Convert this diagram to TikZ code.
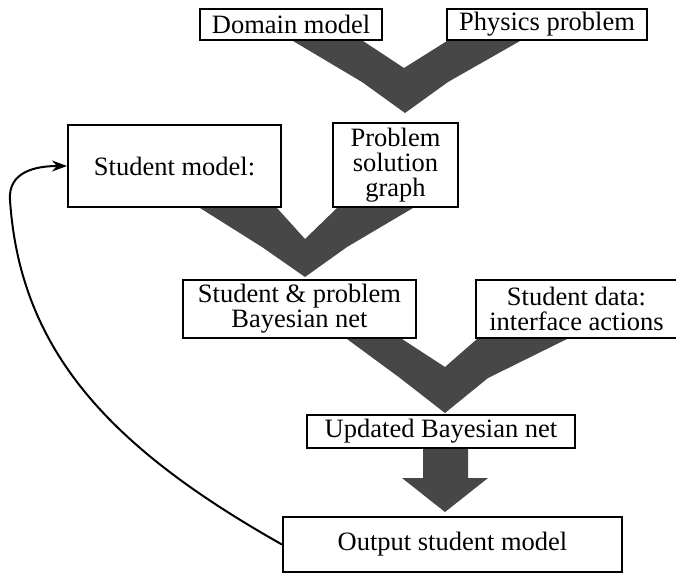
\documentclass[tikz,border=0pt]{standalone}
\usepackage{fontspec}
\setmainfont{Liberation Serif}
\newfontfamily\boxfont{Liberation Serif}
\usepackage{tikz}
\usetikzlibrary{arrows.meta,positioning}

\begin{document}
\begin{tikzpicture}[
    x=1pt, y=-1pt,
    box/.style={draw, line width=2pt, inner sep=0pt, align=center, font=\boxfont\fontsize{26.5}{25}\selectfont},
    flow/.style={fill=black!72},
    feedback/.style={line width=2pt, -{Stealth[length=15pt,width=11pt]}},
]
\useasboundingbox (0,0) rectangle (676,576);

% Inputs
\node[box, minimum width=182pt, minimum height=31pt] (domain) at (291,24.5) {Domain model};
\node[box, minimum width=200pt, minimum height=31pt, right=63pt of domain] (physics) {Physics problem};

% Student model and solution graph
\node[box, minimum width=213pt, minimum height=82pt] (student) at (174.5,166) {Student model:};
\node[box, minimum width=125pt, minimum height=84pt] (graph) at (395.5,165) {Problem\\solution\\graph};

% Bayesian net and student data
\node[box, minimum width=233pt, minimum height=58pt] (net) at (299.5,309) {Student \& problem\\Bayesian net};
\node[box, minimum width=201pt, minimum height=58pt, right=58pt of net] (data) {Student data:\\interface actions};

% Update and output
\node[box, minimum width=268pt, minimum height=33pt] (updated) at (441,431.5) {Updated Bayesian net};
\node[box, minimum width=339pt, minimum height=55pt] (output) at (452.5,544.5) {Output student model};

% Merging arrows
\fill[flow] (293,41) -- (362,82) -- (405,113) -- (448,82) -- (520,41) -- (447,41) -- (404,68) -- (363,41) -- cycle;
\fill[flow] (200,208) -- (262,247) -- (305,277) -- (347,247) -- (413,208) -- (337,208) -- (305,239) -- (277,208) -- cycle;
\fill[flow] (347,339) -- (400,378) -- (445,413) -- (488,378) -- (567,339) -- (477,339) -- (445,367) -- (402,339) -- cycle;

% Straight arrow
\fill[flow] (423,449) -- (423,478) -- (402,478) -- (445,512) -- (488,478) -- (468,478) -- (468,449) -- cycle;

% Feedback loop
\draw[feedback] (output.west) .. controls (109,447) and (20,350) .. (10,200)
    .. controls (8,172) and (35,166) .. (student.west);

\end{tikzpicture}
\end{document}
